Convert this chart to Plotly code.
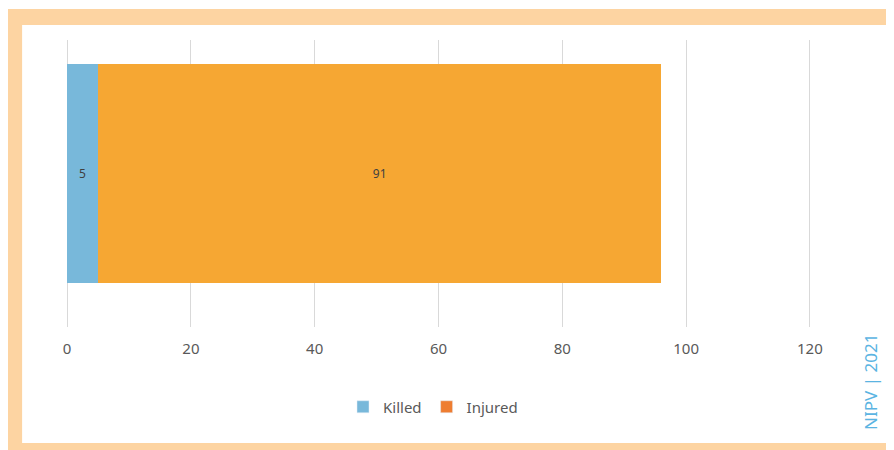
import plotly.graph_objects as go

categories = [""]
killed = [5]
injured = [91]
series_names = ["Killed", "Injured"]
tick_vals = [0, 20, 40, 60, 80, 100, 120]
source_note = "NIPV | 2021"

# the page body adds an 8px margin; lay out in screen pixels and shift
OFF = 8
W, H = 894 - OFF, 450 - OFF
XMIN, XMAX = -0.5, 120.5
S = (810 - 67) / 120.0  # pixels per unit in the reference
L = 67 + XMIN * S - OFF
R = 810 + (XMAX - 120) * S - OFF
T, B = 40 - OFF, 327 - OFF

def px(p):
    return (p - OFF - L) / (R - L)

def py(p):
    return (B - (p - OFF)) / (B - T)

bar_colors = ["#78B8DA", "#F6A733"]
legend_colors = ["#78B8DA", "#EE7D31"]

fig = go.Figure()
for name, vals, col in zip(series_names, [killed, injured], bar_colors):
    fig.add_trace(go.Bar(
        y=categories, x=vals, orientation="h", name=name,
        marker=dict(color=col, line=dict(width=0)),
        text=[str(v) for v in vals], textposition="inside",
        insidetextanchor="middle", textangle=0,
        textfont=dict(size=12, color="#404040", family="Noto Sans"),
        showlegend=False,
    ))
for name, col in zip(series_names, legend_colors):
    fig.add_trace(go.Bar(
        y=[None], x=[None], orientation="h", name=name,
        marker=dict(color=col), showlegend=True,
    ))

shapes = [
    dict(type="rect", xref="paper", yref="paper", layer="below",
         x0=px(0), x1=px(910), y0=py(9), y1=py(470),
         fillcolor="#FDD4A2", line=dict(width=0)),
    dict(type="rect", xref="paper", yref="paper", layer="below",
         x0=px(22), x1=px(891), y0=py(25), y1=py(443),
         fillcolor="#FFFFFF", line=dict(width=0)),
]

fig.update_layout(
    width=W, height=H,
    margin=dict(l=L, r=W - R, t=T, b=H - B, pad=0),
    barmode="stack", bargap=0.237,
    paper_bgcolor="#FFFFFF", plot_bgcolor="rgba(0,0,0,0)",
    font=dict(family="Noto Sans", color="#595959"),
    shapes=shapes,
    xaxis=dict(range=[XMIN, XMAX], tickvals=tick_vals, showgrid=True,
               gridcolor="#D9D9D9", gridwidth=1, zeroline=False,
               showline=False, ticks="", tickfont=dict(size=15, color="#595959"),
               ticklabelstandoff=11, fixedrange=True),
    yaxis=dict(range=[-0.535, 0.465], showticklabels=False, showgrid=False,
               zeroline=False, showline=False, ticks="", fixedrange=True),
    legend=dict(orientation="h", x=px(433), xanchor="center", y=py(407),
                yanchor="middle", font=dict(size=15, color="#595959"),
                itemwidth=30, traceorder="normal", bgcolor="rgba(0,0,0,0)"),
    annotations=[dict(text=source_note, xref="paper", yref="paper",
                      x=px(870), y=py(382), textangle=-90, showarrow=False,
                      font=dict(size=17, color="#5BB4E2", family="Noto Sans"),
                      xanchor="center", yanchor="middle")],
)

fig.write_html("out.html")
